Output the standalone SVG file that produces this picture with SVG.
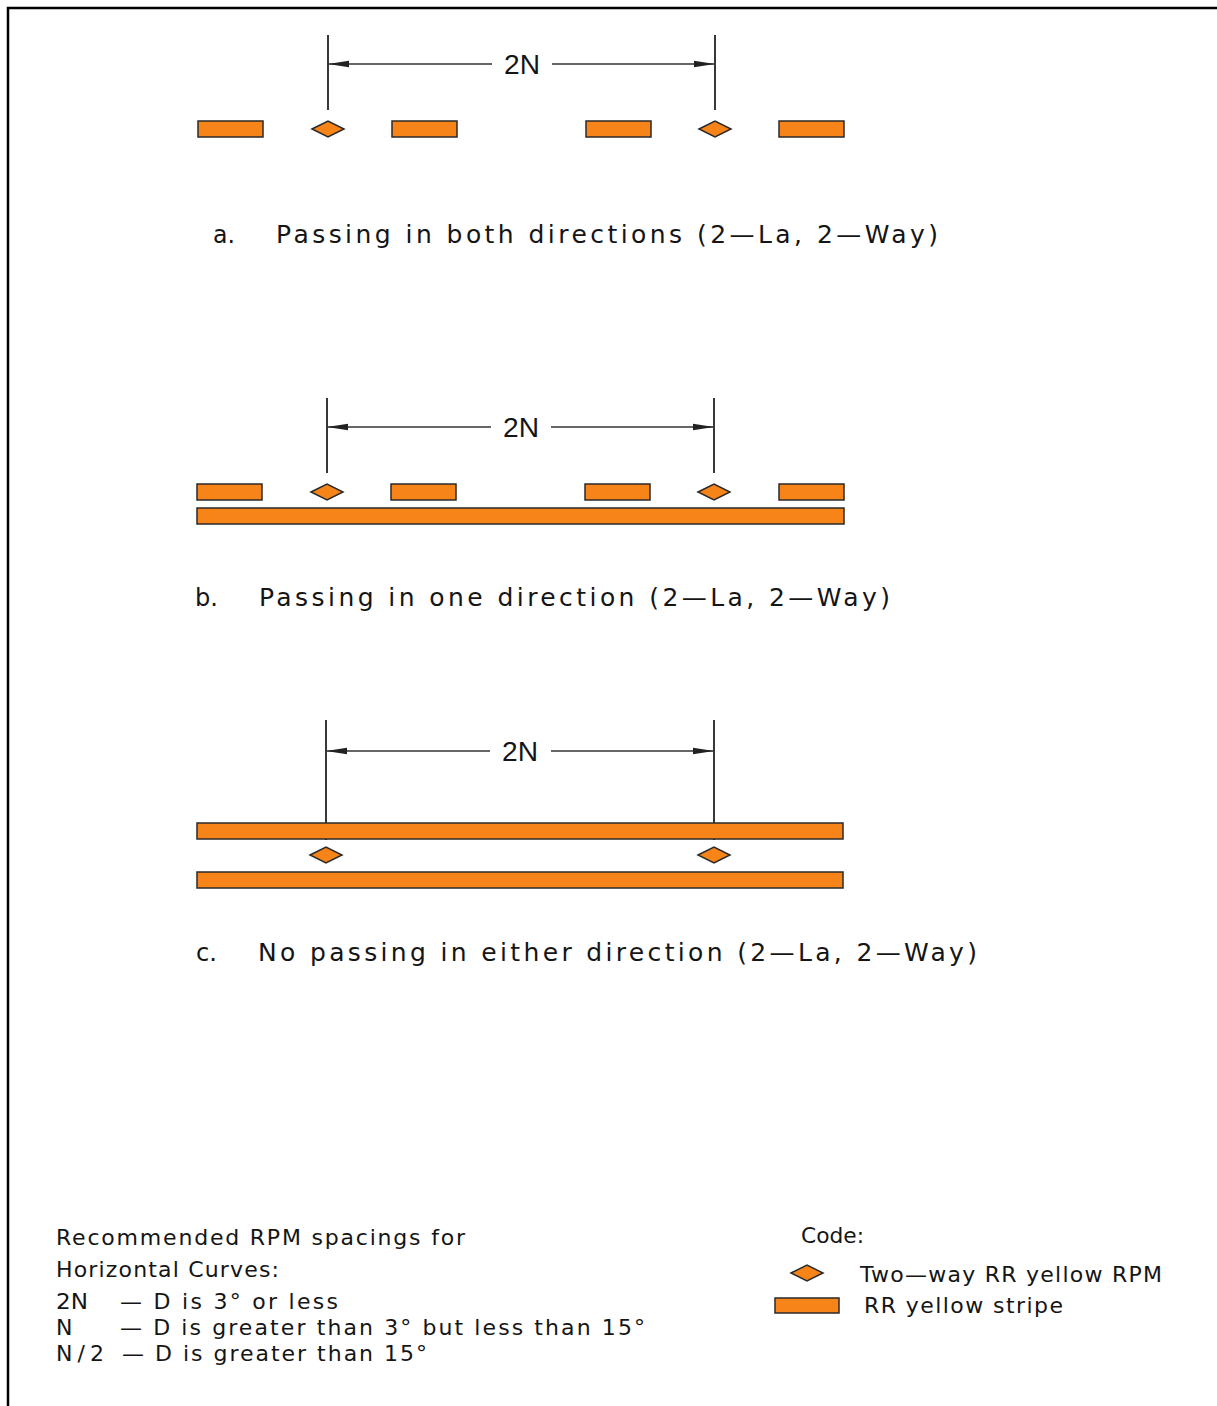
<svg xmlns="http://www.w3.org/2000/svg" width="1217" height="1406" viewBox="0 0 1217 1406">
<style>
.frame{stroke:#000;stroke-width:2.5;fill:none}
.bar{fill:#F68419;stroke:#2a2a2a;stroke-width:1.5}
.rpm{fill:#F68419;stroke:#2a2a2a;stroke-width:1.5;stroke-linejoin:miter}
.ext{stroke:#222;stroke-width:1.8}
.dim{stroke:#333;stroke-width:1.4;fill:none}
.lbl{font-family:"DejaVu Sans","Liberation Sans",sans-serif;font-size:25px;fill:#151515}
.dl{font-family:"Liberation Sans",Arial,sans-serif;font-size:27px;fill:#151515}
.leg{font-family:"DejaVu Sans","Liberation Sans",sans-serif;font-size:22px;fill:#151515}
</style>
<defs>
<marker id="arrS" markerUnits="userSpaceOnUse" markerWidth="24" markerHeight="10" refX="0" refY="5" orient="auto" viewBox="0 0 24 10">
<path d="M0,5 L21,1.8 L21,8.2 Z" fill="#222"/>
</marker>
<marker id="arrE" markerUnits="userSpaceOnUse" markerWidth="24" markerHeight="10" refX="21" refY="5" orient="auto" viewBox="0 0 24 10">
<path d="M21,5 L0,1.8 L0,8.2 Z" fill="#222"/>
</marker>
<polygon id="dia" points="-16,0 0,-8 16,0 0,8"/>
</defs>
<rect width="1217" height="1406" fill="#fff"/>
<g id="frame">
<path class="frame" d="M8,1406 V8 H1217"/>
</g>

<g id="connectors">
<line class="ext" x1="328" y1="35" x2="328" y2="110"/>
<line class="ext" x1="715" y1="35" x2="715" y2="110"/>
<line class="dim" x1="328" y1="64" x2="492" y2="64" marker-start="url(#arrS)"/>
<line class="dim" x1="552" y1="64" x2="715" y2="64" marker-end="url(#arrE)"/>

<line class="ext" x1="327" y1="398" x2="327" y2="473"/>
<line class="ext" x1="714" y1="398" x2="714" y2="473"/>
<line class="dim" x1="327" y1="427" x2="491" y2="427" marker-start="url(#arrS)"/>
<line class="dim" x1="551" y1="427" x2="714" y2="427" marker-end="url(#arrE)"/>

<line class="ext" x1="326" y1="720" x2="326" y2="840"/>
<line class="ext" x1="714" y1="720" x2="714" y2="840"/>
<line class="dim" x1="326" y1="751" x2="490" y2="751" marker-start="url(#arrS)"/>
<line class="dim" x1="551" y1="751" x2="714" y2="751" marker-end="url(#arrE)"/>
</g>

<g id="diagram-a">
<rect class="bar" x="198" y="121" width="65" height="16"/>
<rect class="bar" x="392" y="121" width="65" height="16"/>
<rect class="bar" x="586" y="121" width="65" height="16"/>
<rect class="bar" x="779" y="121" width="65" height="16"/>
<use href="#dia" class="rpm" x="328" y="129"/>
<use href="#dia" class="rpm" x="715" y="129"/>
<text class="dl" x="504" y="74" textLength="36" lengthAdjust="spacingAndGlyphs">2N</text>
<text class="lbl" x="213" y="243" textLength="22" lengthAdjust="spacingAndGlyphs">a.</text>
<text class="lbl" x="276" y="243" textLength="662" lengthAdjust="spacing">Passing in both directions (2—La, 2—Way)</text>
</g>

<g id="diagram-b">
<rect class="bar" x="197" y="484" width="65" height="16"/>
<rect class="bar" x="391" y="484" width="65" height="16"/>
<rect class="bar" x="585" y="484" width="65" height="16"/>
<rect class="bar" x="779" y="484" width="65" height="16"/>
<rect class="bar" x="197" y="508" width="647" height="16"/>
<use href="#dia" class="rpm" x="327" y="492"/>
<use href="#dia" class="rpm" x="714" y="492"/>
<text class="dl" x="503" y="437" textLength="36" lengthAdjust="spacingAndGlyphs">2N</text>
<text class="lbl" x="195" y="606" textLength="23" lengthAdjust="spacingAndGlyphs">b.</text>
<text class="lbl" x="259" y="606" textLength="631" lengthAdjust="spacing">Passing in one direction (2—La, 2—Way)</text>
</g>

<g id="diagram-c">
<rect class="bar" x="197" y="823" width="646" height="16"/>
<rect class="bar" x="197" y="872" width="646" height="16"/>
<use href="#dia" class="rpm" x="326" y="855"/>
<use href="#dia" class="rpm" x="714" y="855"/>
<text class="dl" x="502" y="761" textLength="36" lengthAdjust="spacingAndGlyphs">2N</text>
<text class="lbl" x="196" y="961" textLength="21" lengthAdjust="spacingAndGlyphs">c.</text>
<text class="lbl" x="258" y="961" textLength="719" lengthAdjust="spacing">No passing in either direction (2—La, 2—Way)</text>
</g>

<g id="notes">
<text class="leg" x="56" y="1245" textLength="409" lengthAdjust="spacing">Recommended RPM spacings for</text>
<text class="leg" x="56" y="1277" textLength="223" lengthAdjust="spacing">Horizontal Curves:</text>
<text class="leg" x="56" y="1309" textLength="32" lengthAdjust="spacingAndGlyphs">2N</text>
<text class="leg" x="120" y="1309" textLength="218" lengthAdjust="spacing">— D is 3° or less</text>
<text class="leg" x="56" y="1335">N</text>
<text class="leg" x="120" y="1335" textLength="525" lengthAdjust="spacing">— D is greater than 3° but less than 15°</text>
<text class="leg" x="56" y="1361" textLength="48" lengthAdjust="spacing">N/2</text>
<text class="leg" x="122" y="1361" textLength="305" lengthAdjust="spacing">— D is greater than 15°</text>
</g>

<g id="code-legend">
<text class="leg" x="801" y="1243" textLength="63" lengthAdjust="spacingAndGlyphs">Code:</text>
<use href="#dia" class="rpm" x="807" y="1273"/>
<text class="leg" x="860" y="1282" textLength="302" lengthAdjust="spacing">Two—way RR yellow RPM</text>
<rect class="bar" x="775" y="1298" width="64" height="15"/>
<text class="leg" x="864" y="1313" textLength="199" lengthAdjust="spacing">RR yellow stripe</text>
</g>
</svg>
